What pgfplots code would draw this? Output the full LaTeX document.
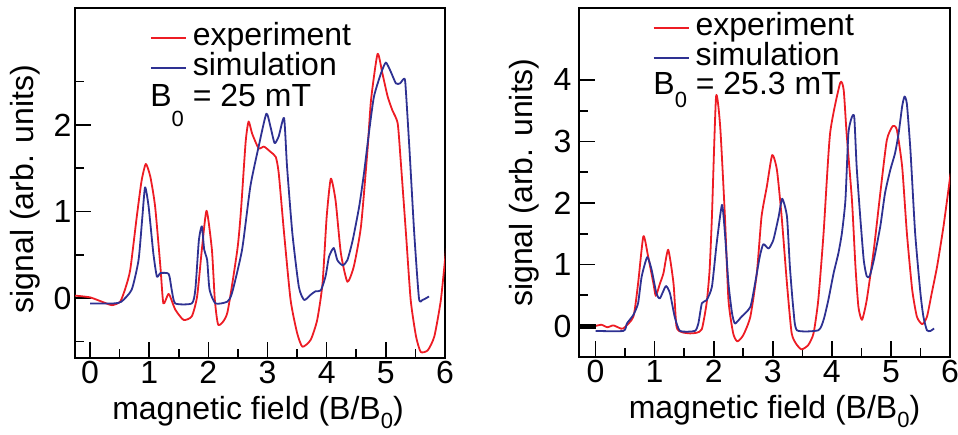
\documentclass[border=0pt]{standalone}
\usepackage{pgfplots}
\pgfplotsset{compat=1.18}
\usepackage{fontspec}
\setmainfont{Liberation Sans}
\definecolor{expred}{RGB}{237,28,36}
\definecolor{simblue}{RGB}{46,49,146}
\newcommand{\bigfont}{\fontsize{32}{38}\selectfont}
\pgfplotsset{
 legend image code/.code={\draw[#1] (0pt,0pt) -- (35pt,0pt);},
 panel/.style={
  scale only axis,
  axis line style={line width=1.6pt},
  tick style={line width=1.6pt, black},
  tick align=inside, xtick pos=bottom, ytick pos=left,
  major tick length=16pt, minor tick length=9pt,
  xmax=6, xtick={0,...,6}, minor xtick={0.5,1.5,...,5.5},
  ticklabel style={font=\bigfont},
  /pgf/number format/assume math mode=true,
  label style={font=\bigfont},
  xlabel={magnetic field (B/B\raisebox{-9pt}{\fontsize{22}{22}\selectfont 0})},
  ylabel={signal (arb. units)},
  legend style={draw=none, fill=none, inner sep=0pt, outer sep=0pt, font=\bigfont, row sep=1pt, column sep=6pt, nodes={inner sep=0pt, text height=22pt, text depth=7pt}},
  legend cell align=left,
  every axis plot/.append style={line width=1.8pt, line join=round, smooth, tension=0.35},
 }
}
\begin{document}
\begin{tikzpicture}
\path[use as bounding box] (0,0) rectangle (958pt,434pt);
\begin{axis}[panel, at={(75pt,76pt)}, anchor=south west, width=370pt, height=350pt,
  xmin=-0.254, ymin=-0.69, ymax=3.35,
  ytick={0,1,2}, minor ytick={-0.5,0.5,1.5,2.5},
  xlabel style={at={(axis description cs:0.5,0)}, anchor=north, yshift=-35pt, xshift=-2pt},
  ylabel style={at={(axis description cs:-0.135,0.483)}, anchor=center},
  legend style={at={(rel axis cs:0.2027,0.955)}, anchor=north west}]
\addplot[color=expred] coordinates {(-0.25,0.03)(0,0.01)(0.2,-0.04)(0.37,-0.08)(0.51,-0.04)(0.6,0.12)(0.68,0.33)(0.79,0.94)(0.87,1.35)(0.943,1.55)(1.02,1.4)(1.10,1.06)(1.19,0.36)(1.24,-0.06)(1.33,0.05)(1.44,-0.13)(1.58,-0.25)(1.72,-0.21)(1.81,0.02)(1.89,0.56)(1.97,1.01)(2.06,0.56)(2.11,-0.02)(2.17,-0.31)(2.32,-0.17)(2.49,0.56)(2.55,1.0)(2.63,1.8)(2.68,2.04)(2.74,1.9)(2.85,1.73)(2.94,1.75)(3.05,1.69)(3.14,1.63)(3.19,1.44)(3.28,0.75)(3.39,-0.02)(3.50,-0.40)(3.59,-0.56)(3.73,-0.48)(3.84,-0.25)(3.93,0.17)(4.0,0.94)(4.07,1.38)(4.15,1.13)(4.24,0.52)(4.35,0.19)(4.46,0.37)(4.58,0.83)(4.69,1.71)(4.75,2.29)(4.86,2.82)(4.94,2.6)(5.03,2.33)(5.11,2.17)(5.2,2.02)(5.25,1.6)(5.34,0.75)(5.42,-0.02)(5.51,-0.44)(5.59,-0.62)(5.71,-0.6)(5.82,-0.44)(5.93,-0.02)(6.02,0.58)};
\addlegendentry{experiment}
\addplot[color=simblue] coordinates {(0,-0.06)(0.4,-0.06)(0.53,-0.04)(0.705,0.1)(0.82,0.44)(0.88,0.9)(0.93,1.28)(0.99,1.06)(1.07,0.52)(1.13,0.25)(1.19,0.29)(1.33,0.28)(1.38,0.1)(1.44,-0.06)(1.72,-0.06)(1.78,0.1)(1.84,0.67)(1.89,0.83)(1.93,0.56)(1.98,0.44)(2.02,0.1)(2.12,-0.06)(2.32,-0.04)(2.4,0.06)(2.57,0.56)(2.71,1.29)(2.85,1.75)(2.98,2.13)(3.05,1.98)(3.12,1.79)(3.19,1.87)(3.28,2.08)(3.33,1.52)(3.42,0.75)(3.53,0.13)(3.62,-0.02)(3.73,0.04)(3.81,0.08)(3.90,0.09)(3.98,0.25)(4.04,0.48)(4.12,0.58)(4.18,0.44)(4.27,0.38)(4.35,0.44)(4.44,0.67)(4.55,1.06)(4.63,1.44)(4.72,1.94)(4.80,2.33)(4.92,2.6)(5.0,2.72)(5.08,2.62)(5.17,2.48)(5.24,2.48)(5.30,2.53)(5.33,2.48)(5.40,1.71)(5.48,0.75)(5.56,0.0)(5.62,-0.02)(5.73,0.02)};
\addlegendentry{simulation}
\node[anchor=base west, inner sep=0pt, font=\bigfont] at (axis cs:1.017,2.218) {B\raisebox{-20pt}{\fontsize{22}{22}\selectfont 0}\ = 25 mT};
\end{axis}
\begin{axis}[panel, at={(579pt,77pt)}, anchor=south west, width=371pt, height=349pt,
  xmin=-0.28, ymin=-0.504, ymax=5.17,
  ytick={0,1,2,3,4}, minor ytick={0.5,1.5,2.5,3.5},
  yticklabel style={xshift=-4pt},
  xlabel style={at={(axis description cs:0.5,0)}, anchor=north, yshift=-35pt, xshift=10pt},
  ylabel style={at={(axis description cs:-0.148,0.5)}, anchor=center},
  legend style={at={(rel axis cs:0.199,0.984)}, anchor=north west}]
\addplot[color=expred] coordinates {(0,0.0)(0.1,0.02)(0.2,-0.02)(0.3,0.01)(0.4,-0.03)(0.47,-0.04)(0.64,0.15)(0.72,0.69)(0.81,1.46)(0.89,1.13)(0.98,0.69)(1.02,0.49)(1.09,0.69)(1.15,0.86)(1.23,1.24)(1.32,0.69)(1.37,-0.01)(1.46,-0.1)(1.6,-0.12)(1.71,-0.11)(1.80,-0.05)(1.88,0.37)(1.93,0.9)(1.97,1.78)(2.04,3.73)(2.11,3.24)(2.19,1.78)(2.25,0.42)(2.33,-0.12)(2.40,-0.25)(2.5,-0.15)(2.62,0.15)(2.73,0.86)(2.81,1.78)(2.9,2.27)(2.99,2.78)(3.07,2.54)(3.15,1.78)(3.24,0.69)(3.32,-0.12)(3.41,-0.31)(3.49,-0.38)(3.60,-0.31)(3.69,-0.12)(3.77,0.42)(3.86,1.51)(3.97,3.13)(4.14,3.95)(4.20,3.84)(4.25,3.13)(4.34,2.05)(4.40,0.96)(4.45,0.31)(4.51,0.1)(4.59,0.42)(4.71,1.24)(4.82,2.16)(4.93,3.02)(5.03,3.25)(5.10,3.19)(5.19,2.59)(5.27,1.51)(5.36,0.59)(5.44,0.15)(5.53,0.03)(5.61,0.15)(5.69,0.53)(5.78,0.96)(5.89,1.62)(6.01,2.48)};
\addlegendentry{experiment}
\addplot[color=simblue] coordinates {(0,-0.08)(0.47,-0.08)(0.53,0.04)(0.64,0.18)(0.72,0.37)(0.78,0.80)(0.875,1.12)(0.95,0.91)(1.03,0.53)(1.09,0.45)(1.19,0.65)(1.26,0.53)(1.34,0.15)(1.43,-0.08)(1.68,-0.08)(1.74,0.04)(1.80,0.37)(1.88,0.42)(1.97,0.64)(2.05,1.34)(2.14,1.97)(2.19,1.51)(2.25,0.69)(2.31,0.21)(2.36,0.04)(2.47,0.15)(2.62,0.31)(2.70,0.69)(2.78,1.13)(2.84,1.33)(2.93,1.26)(3.01,1.40)(3.10,1.78)(3.16,2.07)(3.24,1.78)(3.29,0.96)(3.35,0.26)(3.41,-0.07)(3.77,-0.07)(3.86,0.10)(3.94,0.42)(4.03,0.86)(4.11,1.18)(4.17,1.51)(4.23,2.05)(4.28,3.13)(4.34,3.40)(4.38,3.39)(4.42,2.59)(4.48,1.78)(4.54,1.07)(4.59,0.81)(4.64,0.81)(4.71,1.07)(4.82,1.62)(4.90,2.16)(4.99,2.54)(5.07,2.81)(5.13,3.13)(5.19,3.57)(5.23,3.73)(5.27,3.61)(5.33,2.86)(5.41,1.51)(5.50,0.53)(5.55,0.15)(5.61,-0.07)(5.67,-0.08)(5.73,-0.04)};
\addlegendentry{simulation}
\addplot[black, line width=5pt, forget plot, sharp plot] coordinates {(-0.3,0)(0,0)};
\node[anchor=base west, inner sep=0pt, font=\bigfont] at (axis cs:0.976,3.756) {B\raisebox{-13pt}{\fontsize{22}{22}\selectfont 0}\ = 25.3 mT};
\end{axis}
\end{tikzpicture}
\end{document}
